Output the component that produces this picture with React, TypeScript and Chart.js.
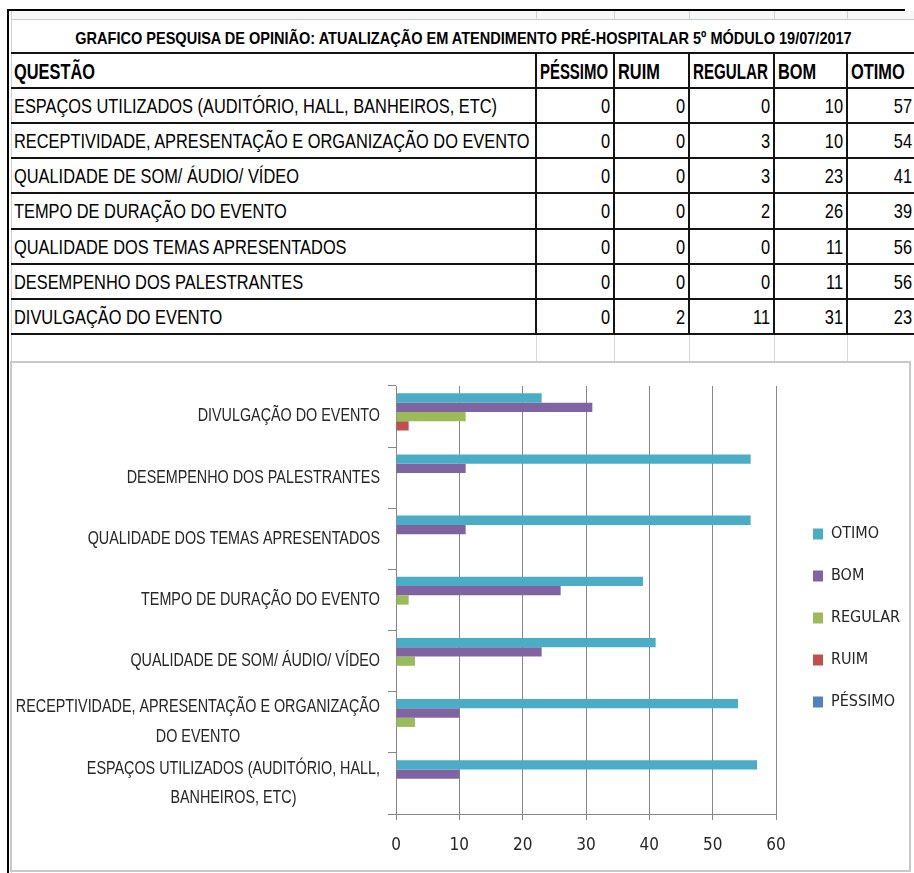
import React, { useEffect, useRef } from 'react';
import { Chart, registerables } from 'chart.js';

Chart.register(...registerables);

const TITLE = 'GRAFICO PESQUISA DE OPINIÃO: ATUALIZAÇÃO EM ATENDIMENTO PRÉ-HOSPITALAR 5º MÓDULO 19/07/2017';
const FIRST_HEADER = 'QUESTÃO';

const categories = [
  'ESPAÇOS UTILIZADOS (AUDITÓRIO, HALL, BANHEIROS, ETC)',
  'RECEPTIVIDADE, APRESENTAÇÃO E ORGANIZAÇÃO DO EVENTO',
  'QUALIDADE DE SOM/ ÁUDIO/ VÍDEO',
  'TEMPO DE DURAÇÃO DO EVENTO',
  'QUALIDADE DOS TEMAS APRESENTADOS',
  'DESEMPENHO DOS PALESTRANTES',
  'DIVULGAÇÃO DO EVENTO',
];

const seriesNames = ['PÉSSIMO', 'RUIM', 'REGULAR', 'BOM', 'OTIMO'];
const pessimo = [0, 0, 0, 0, 0, 0, 0];
const ruim = [0, 0, 0, 0, 0, 0, 2];
const regular = [0, 3, 3, 2, 0, 0, 11];
const bom = [10, 10, 23, 26, 11, 11, 31];
const otimo = [57, 54, 41, 39, 56, 56, 23];
const seriesValues = [pessimo, ruim, regular, bom, otimo];
const seriesColors = ['#4F81BD', '#C0504D', '#9BBB59', '#8064A2', '#4BACC6'];
const xTickValues = [0, 10, 20, 30, 40, 50, 60];

const SANS = '"Liberation Sans", Arial, sans-serif';
const COND = '"DejaVu Sans Condensed", "DejaVu Sans", sans-serif';

// table geometry
const colEdges = [11, 536, 614, 689, 774, 847, 916];
const headerTop = 53;
const dataTop = 88;
const rowH = 35.14;

let mctx: CanvasRenderingContext2D | null = null;
function measure(text: string, font: string): number {
  if (!mctx) mctx = document.createElement('canvas').getContext('2d');
  mctx!.font = font;
  return mctx!.measureText(text).width;
}

function wrapLines(ctx: CanvasRenderingContext2D, text: string, maxW: number): string[] {
  const words = text.split(' ');
  const lines: string[] = [];
  let cur = '';
  for (const w of words) {
    const test = cur ? cur + ' ' + w : w;
    if (cur && ctx.measureText(test).width > maxW) {
      lines.push(cur);
      cur = w;
    } else {
      cur = test;
    }
  }
  if (cur) lines.push(cur);
  return lines;
}

const Y_LABEL_SCALE = 0.82;
const yBlockLabels = {
  id: 'yBlockLabels',
  afterDraw(chart: any) {
    const ys = chart.scales.y;
    const ctx: CanvasRenderingContext2D = chart.ctx;
    ctx.save();
    ctx.font = `17.5px ${SANS}`;
    ctx.fillStyle = '#262626';
    ctx.textAlign = 'center';
    ctx.textBaseline = 'middle';
    const right = ys.right - 16;
    const lh = 29.5;
    const labels: string[] = chart.data.labels;
    labels.forEach((label, i) => {
      const lines = wrapLines(ctx, label, 378 / Y_LABEL_SCALE);
      const maxW = Math.max(...lines.map((l) => ctx.measureText(l).width));
      const cy = ys.getPixelForValue(i);
      ctx.save();
      ctx.translate(right, 0);
      ctx.scale(Y_LABEL_SCALE, 1);
      lines.forEach((l, k) => {
        ctx.fillText(l, -maxW / 2, cy + (k - (lines.length - 1) / 2) * lh);
      });
      ctx.restore();
    });
    ctx.restore();
  },
};

function BarChart() {
  const ref = useRef<HTMLCanvasElement>(null);
  useEffect(() => {
    if (!ref.current) return;
    const order = [4, 3, 2, 1, 0];
    const chart = new Chart(ref.current, {
      type: 'bar',
      data: {
        labels: categories,
        datasets: order.map((s) => ({
          label: seriesNames[s],
          data: seriesValues[s],
          backgroundColor: seriesColors[s],
          borderWidth: 0,
          categoryPercentage: 0.76,
          barPercentage: 1,
        })),
      },
      options: {
        indexAxis: 'y',
        responsive: false,
        animation: false,
        layout: { padding: { left: 0, top: 15, bottom: 12, right: 11 } },
        scales: {
          x: {
            type: 'linear',
            position: 'bottom',
            min: 0,
            max: 60,
            afterBuildTicks: (s: any) => {
              s.ticks = xTickValues.map((v) => ({ value: v }));
            },
            ticks: { font: { family: COND, size: 17 }, color: '#262626', padding: 15.5 },
            grid: { color: '#868686', tickLength: 6, drawTicks: true },
            border: { color: '#868686' },
            afterFit: (s: any) => {
              s.height = 44;
            },
          },
          gapTop: {
            type: 'linear',
            position: 'top',
            display: true,
            grid: { display: false },
            border: { display: false },
            ticks: { display: false },
            afterFit: (s: any) => {
              s.height = 8;
            },
          },
          y: {
            type: 'category',
            position: 'left',
            reverse: true,
            ticks: { display: false },
            grid: { display: true, drawOnChartArea: false, drawTicks: true, tickLength: 8, color: '#868686', offset: true },
            border: { color: '#868686' },
            afterFit: (s: any) => {
              s.width = 384;
            },
          },
          gapRight: {
            type: 'linear',
            position: 'right',
            display: true,
            grid: { display: false },
            border: { display: false },
            ticks: { display: false },
            afterFit: (s: any) => {
              s.width = 11;
            },
          },
        },
        plugins: {
          legend: {
            position: 'right',
            maxWidth: 116,
            labels: {
              boxWidth: 10,
              boxHeight: 11,
              padding: 26,
              color: '#262626',
              font: { family: COND, size: 16 },
            },
          },
          tooltip: { enabled: false },
        },
      },
      plugins: [yBlockLabels],
    } as any);
    return () => chart.destroy();
  }, []);
  return (
    <canvas
      ref={ref}
      width={902}
      height={507}
      style={{ position: 'absolute', left: 12, top: 363, width: 902, height: 507, zIndex: 2 }}
    />
  );
}

type STextProps = {
  text: string | number;
  left: number;
  width: number;
  top: number;
  height: number;
  size: number;
  bold?: boolean;
  k: number;
  align: 'left' | 'right' | 'center';
};

function SText({ text, left, width, top, height, size, bold, k, align }: STextProps) {
  const justify = align === 'left' ? 'flex-start' : align === 'right' ? 'flex-end' : 'center';
  return (
    <div
      style={{
        position: 'absolute',
        left,
        width,
        top,
        height,
        display: 'flex',
        alignItems: 'center',
        justifyContent: justify,
        fontFamily: SANS,
        fontSize: size,
        fontWeight: bold ? 'bold' : 'normal',
        color: '#000',
        whiteSpace: 'nowrap',
        lineHeight: 1,
        transform: `scaleX(${k})`,
        transformOrigin: `${align} center`,
      }}
    >
      {text}
    </div>
  );
}

export default function App() {
  const hLines = [headerTop, dataTop];
  for (let i = 1; i <= categories.length; i++) hLines.push(dataTop + i * rowH);
  const tableBottom = dataTop + categories.length * rowH;

  const headFont = `bold 22px ${SANS}`;
  const titleK = 778 / measure(TITLE, `bold 17px ${SANS}`);
  const headK = 81 / measure(FIRST_HEADER, headFont);
  const bodyK = 483 / measure(categories[0], `21px ${SANS}`);

  return (
    <div
      style={{
        position: 'absolute',
        left: 0,
        top: 0,
        width: 914,
        height: 873,
        background: '#fff',
        overflow: 'hidden',
      }}
    >
      {/* frame */}
      <div style={{ position: 'absolute', left: 7, top: 9, width: 898, height: 2, background: '#000' }} />
      <div style={{ position: 'absolute', left: 7, top: 9, width: 2, height: 864, background: '#000' }} />
      {/* light grid row 1 and empty row */}
      <div style={{ position: 'absolute', left: 11, top: 11, width: 903, height: 8, background: '#f7f7f7' }} />
      <div style={{ position: 'absolute', left: 11, top: 19, width: 903, height: 1, background: '#c8c8c8' }} />
      <div style={{ position: 'absolute', left: 11, top: 11, width: 1, height: 862, background: '#d0d0d0' }} />
      {colEdges.slice(1, 6).map((x, i) => (
        <React.Fragment key={'g' + i}>
          <div style={{ position: 'absolute', left: x, top: 11, width: 1, height: 8, background: '#d0d0d0' }} />
          <div style={{ position: 'absolute', left: x, top: tableBottom, width: 1, height: 361 - tableBottom, background: '#d8d8d8' }} />
        </React.Fragment>
      ))}
      {/* title */}
      <SText text={TITLE} left={colEdges[0]} width={colEdges[6] - colEdges[0]} top={20} height={36} size={17} bold k={titleK} align="center" />
      {/* table lines */}
      {hLines.map((y, i) => (
        <div key={'h' + i} style={{ position: 'absolute', left: 11, top: y - 1, width: 903, height: 2, background: '#141414' }} />
      ))}
      {colEdges.slice(1, 6).map((x, i) => (
        <div key={'v' + i} style={{ position: 'absolute', left: x - 1, top: headerTop, width: 2, height: tableBottom - headerTop, background: '#141414' }} />
      ))}
      {/* header */}
      {[FIRST_HEADER, ...seriesNames].map((t, c) => {
        const avail = colEdges[c + 1] - colEdges[c] - 10;
        const k = Math.min(headK, avail / measure(t, headFont));
        return (
          <SText
            key={'hd' + c}
            text={t}
            left={colEdges[c] + (c === 0 ? 3 : 4)}
            width={300}
            top={headerTop + 1.5}
            height={dataTop - headerTop}
            size={22}
            bold
            k={k}
            align="left"
          />
        );
      })}
      {/* rows */}
      {categories.map((cat, r) => (
        <React.Fragment key={'r' + r}>
          <SText text={cat} left={colEdges[0] + 3} width={600} top={dataTop + r * rowH} height={rowH} size={21} k={bodyK} align="left" />
          {seriesValues.map((vals, c) => (
            <SText
              key={'c' + c}
              text={vals[r]}
              left={colEdges[c + 2] - 4 - 100}
              width={100}
              top={dataTop + r * rowH}
              height={rowH}
              size={21}
              k={bodyK}
              align="right"
            />
          ))}
        </React.Fragment>
      ))}
      {/* chart frame */}
      <div
        style={{
          position: 'absolute',
          left: 10,
          top: 361,
          width: 901,
          height: 511,
          border: '2px solid #c8c8c8',
          boxSizing: 'border-box',
          background: '#fff',
          zIndex: 1,
        }}
      />
      <BarChart />
    </div>
  );
}
